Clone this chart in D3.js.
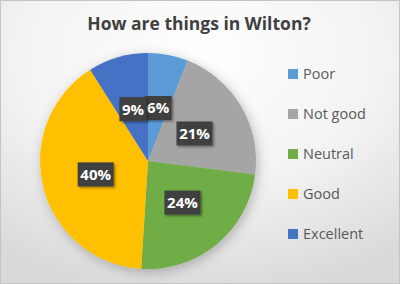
<!DOCTYPE html>
<html>
<head>
<meta charset="utf-8">
<script src="https://cdn.jsdelivr.net/npm/d3@7"></script>
<style>
  body { margin: 0; background: #fff; }
  svg { display: block; font-family: "Open Sans", "Noto Sans", sans-serif; }
</style>
</head>
<body>
<svg width="400" height="284"></svg>
<script>
var categories = ['Poor', 'Not good', 'Neutral', 'Good', 'Excellent'];
var values = [6, 21, 24, 40, 9];
var colors = ['#5b9bd5', '#a5a5a5', '#70ad47', '#ffc000', '#4472c4'];
var title = 'How are things in Wilton?';

var svg = d3.select('svg');
var width = +svg.attr('width');
var height = +svg.attr('height');

var defs = svg.append('defs');
var bg = defs.append('radialGradient').attr('id', 'bg')
  .attr('cx', '50%').attr('cy', '20%').attr('r', '85%');
bg.append('stop').attr('offset', '0%').attr('stop-color', '#ffffff');
bg.append('stop').attr('offset', '55%').attr('stop-color', '#f2f2f2');
bg.append('stop').attr('offset', '100%').attr('stop-color', '#d9d9d9');

var shadow = defs.append('filter').attr('id', 'pieShadow')
  .attr('x', '-20%').attr('y', '-20%').attr('width', '140%').attr('height', '140%');
shadow.append('feDropShadow').attr('dx', 2).attr('dy', 3).attr('stdDeviation', 6)
  .attr('flood-color', '#000').attr('flood-opacity', 0.25);

var boxShadow = defs.append('filter').attr('id', 'boxShadow')
  .attr('x', '-30%').attr('y', '-30%').attr('width', '160%').attr('height', '160%');
boxShadow.append('feDropShadow').attr('dx', 1.5).attr('dy', 1.5).attr('stdDeviation', 1)
  .attr('flood-color', '#000').attr('flood-opacity', 0.4);

svg.append('rect')
  .attr('x', 0.5).attr('y', 0.5)
  .attr('width', width - 1).attr('height', height - 1)
  .attr('fill', 'url(#bg)')
  .attr('stroke', '#c4c4c4');

svg.append('text')
  .attr('x', 199).attr('y', 30)
  .attr('text-anchor', 'middle')
  .attr('font-size', 17.5)
  .attr('font-weight', 'bold')
  .attr('fill', '#404040')
  .text(title);

var radius = 108;
var cx = 148, cy = 161;

var pie = d3.pie().sort(null).value(function(d) { return d; });
var arcs = pie(values);
var arcGen = d3.arc().innerRadius(0).outerRadius(radius);

var pieG = svg.append('g')
  .attr('transform', 'translate(' + cx + ',' + cy + ')');

pieG.append('g').attr('filter', 'url(#pieShadow)')
  .selectAll('path')
  .data(arcs)
  .enter()
  .append('path')
  .attr('d', arcGen)
  .attr('fill', function(d, i) { return colors[i]; })
  .attr('stroke', 'none');

var labelG = pieG.selectAll('.lbl')
  .data(arcs)
  .enter()
  .append('g')
  .attr('class', 'lbl')
  .attr('transform', function(d) {
    var c = arcGen.centroid(d);
    return 'translate(' + c[0] + ',' + c[1] + ')';
  });

labelG.each(function(d) {
  var g = d3.select(this);
  var txt = d.value + '%';
  var w = txt.length === 2 ? 27 : 36;
  g.append('rect')
    .attr('x', -w / 2).attr('y', -12)
    .attr('width', w).attr('height', 24)
    .attr('fill', '#404040')
    .attr('filter', 'url(#boxShadow)');
  g.append('text')
    .attr('text-anchor', 'middle')
    .attr('dy', '0.36em')
    .attr('font-size', 15)
    .attr('font-weight', 'bold')
    .attr('fill', '#ffffff')
    .text(txt);
});

var legend = svg.append('g');
var legendY = d3.scalePoint().domain(categories).range([74, 234]);

var item = legend.selectAll('g')
  .data(categories)
  .enter()
  .append('g')
  .attr('transform', function(d) { return 'translate(288,' + legendY(d) + ')'; });

item.append('rect')
  .attr('x', 0).attr('y', -5)
  .attr('width', 10).attr('height', 10)
  .attr('fill', function(d, i) { return colors[i]; });

item.append('text')
  .attr('x', 15).attr('dy', '0.36em')
  .attr('font-size', 14.5)
  .attr('fill', '#595959')
  .text(function(d) { return d; });
</script>
</body>
</html>
